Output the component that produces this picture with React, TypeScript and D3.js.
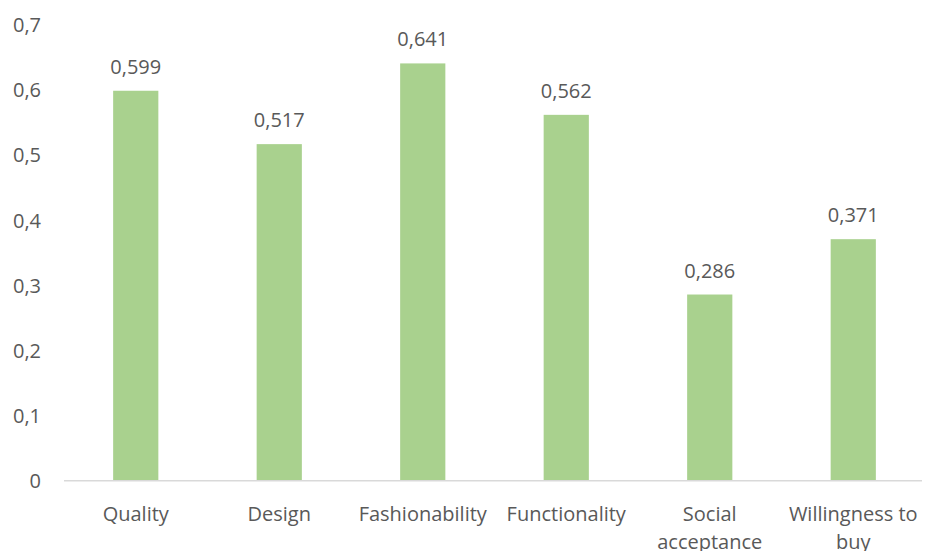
import React from "react";
import * as d3 from "d3";

const categories: string[][] = [
  ["Quality"],
  ["Design"],
  ["Fashionability"],
  ["Functionality"],
  ["Social", "acceptance"],
  ["Willingness to", "buy"],
];
const values: number[] = [0.599, 0.517, 0.641, 0.562, 0.286, 0.371];
const yTicks: number[] = [0, 0.1, 0.2, 0.3, 0.4, 0.5, 0.6, 0.7];

const W = 925;
const H = 551;
const FONT = "'Open Sans', sans-serif";
const TEXT = "#595959";

export default function App() {
  const x = d3
    .scaleBand<number>()
    .domain(categories.map((_, i) => i))
    .range([64, 925])
    .paddingInner(0.685)
    .paddingOuter(0.3425);
  const y = d3.scaleLinear().domain([0, 0.7]).range([480.7, 25]);
  const fmt = (v: number) => String(v).replace(".", ",");

  return (
    <svg
      width={W}
      height={H}
      style={{ position: "absolute", left: 0, top: 0, background: "#fff" }}
      fontFamily={FONT}
    >
      {yTicks.map((t) => (
        <text
          key={t}
          x={41}
          y={y(t)}
          dy="0.36em"
          textAnchor="end"
          fontSize={20}
          fill={TEXT}
        >
          {fmt(t)}
        </text>
      ))}
      {values.map((v, i) => (
        <g key={i}>
          <rect
            x={x(i)}
            y={y(v)}
            width={x.bandwidth()}
            height={y(0) - y(v)}
            fill="#A9D18E"
          />
          <text
            x={(x(i) as number) + x.bandwidth() / 2}
            y={y(v) - 17}
            textAnchor="middle"
            fontSize={20}
            fill={TEXT}
          >
            {v.toFixed(3).replace(".", ",")}
          </text>
        </g>
      ))}
      <line x1={64} x2={922} y1={y(0)} y2={y(0)} stroke="#D9D9D9" strokeWidth={1.5} />
      {categories.map((lines, i) => (
        <text
          key={i}
          x={(x(i) as number) + x.bandwidth() / 2}
          y={521}
          textAnchor="middle"
          fontSize={20}
          fill={TEXT}
        >
          {lines.map((l, j) => (
            <tspan key={j} x={(x(i) as number) + x.bandwidth() / 2} dy={j === 0 ? 0 : 28}>
              {l}
            </tspan>
          ))}
        </text>
      ))}
    </svg>
  );
}
